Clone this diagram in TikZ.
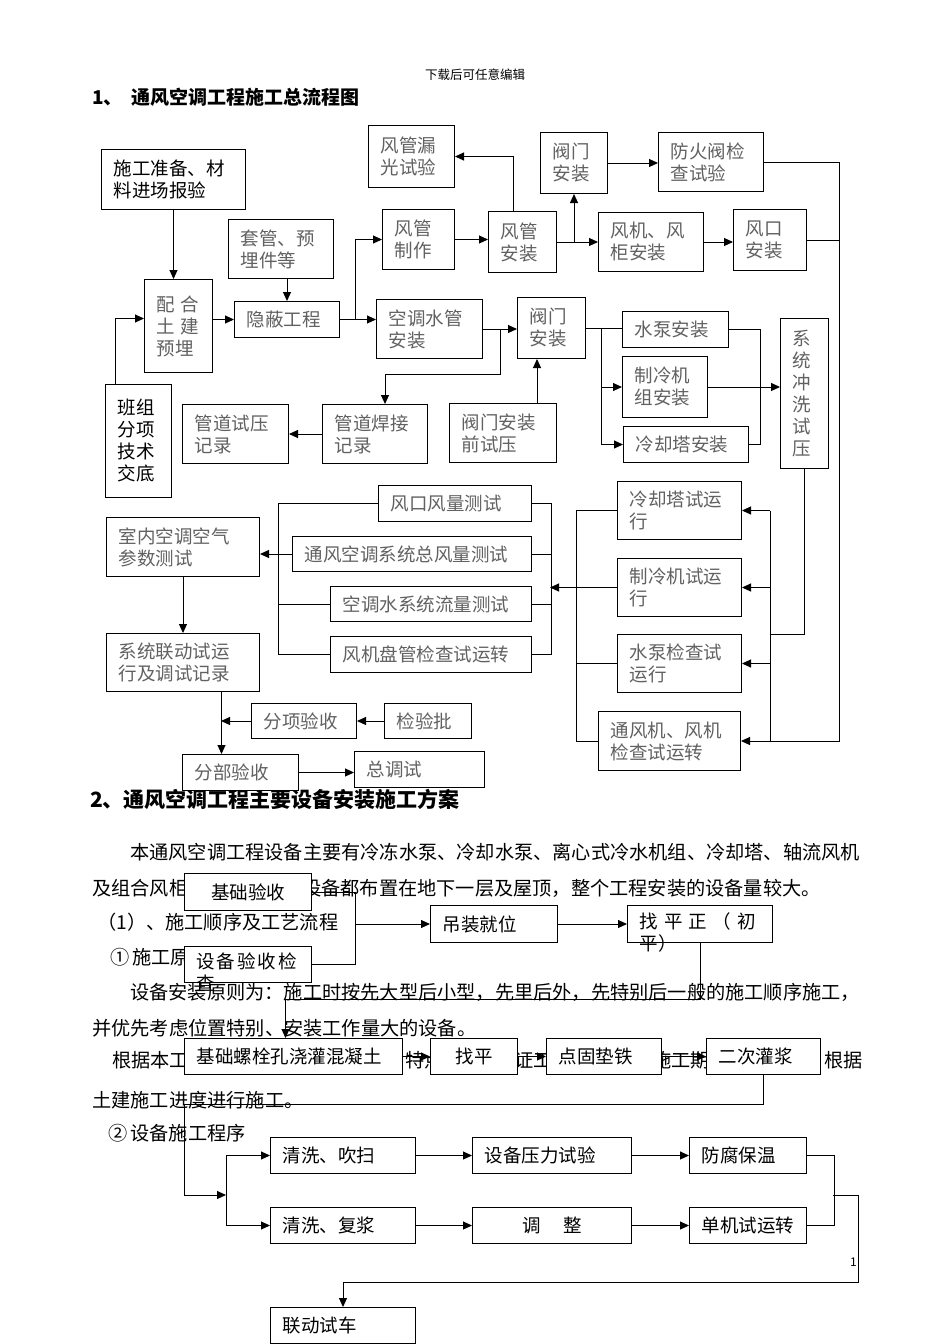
\documentclass[tikz,border=0pt]{standalone}
\usepackage{fontspec}
\setmainfont{Noto Sans CJK SC}
\usetikzlibrary{arrows.meta}
\newcommand{\boxfont}{\fontsize{18.5}{22}\selectfont}
\newcommand{\parafont}{\fontsize{19.2}{22}\selectfont}
\tikzstyle{box} = [rectangle, draw=black, line width=1pt, fill=white, anchor=north west, inner xsep=12pt, inner ysep=0pt, align=left, text=black!62, font=\boxfont]
\tikzstyle{boxdark} = [box, text=black]
\tikzstyle{para} = [anchor=west, inner sep=0pt, font=\parafont]
\tikzstyle{arrow} = [line width=1pt, -{Triangle[length=9pt, width=8pt]}]
\tikzstyle{link} = [line width=1pt]

\begin{document}
\begin{tikzpicture}[x=1pt, y=-1pt]
    \useasboundingbox (0,0) rectangle (950,1344);

    % headings and running text
    \node (header) [para, anchor=center, font=\fontsize{12.5}{14}\selectfont] at (475,75) {下载后可任意编辑};
    \node (title1) [para, font=\fontsize{19}{22}\selectfont\bfseries] at (92,97) {1、\hspace{9pt}通风空调工程施工总流程图};
    \node (title2) [para, font=\fontsize{21}{24}\selectfont\bfseries] at (90,799) {2、通风空调工程主要设备安装施工方案};
    \node (p1) [para] at (130,852) {本通风空调工程设备主要有冷冻水泵、冷却水泵、离心式冷水机组、冷却塔、轴流风机};
    \node (p2a) [para] at (92,888) {及组合风柜};
    \node (p2b) [para] at (302,888) {设备都布置在地下一层及屋顶，整个工程安装的设备量较大。};
    \node (p3) [para] at (97,922) {（1）、施工顺序及工艺流程};
    \node (p4) [para] at (110,957) {①\,施工原};
    \node (p5) [para] at (130,992) {设备安装原则为：施工时按先大型后小型，先里后外，先特别后一般的施工顺序施工，};
    \node (p6) [para] at (92,1028) {并优先考虑位置特别、安装工作量大的设备。};
    \node (p7a) [para] at (112,1060) {根据本工};
    \node (p7b) [para] at (405,1060) {特点};
    \node (p7c) [para] at (514,1060) {证工};
    \node (p7d) [para] at (652,1060) {施工期};
    \node (p7e) [para] at (824,1060) {根据};
    \node (p8) [para] at (92,1100) {土建施工进度进行施工。};
    \node (p9) [para] at (108,1133) {②\,设备施工程序};
    \node (pageno) [para, font=\fontsize{12}{14}\selectfont] at (850,1262) {1};

    % flow chart 1
    \node (prep) [boxdark, minimum width=144pt, minimum height=60pt, text width=120pt] at (101,149) {施工准备、材\\料进场报验};
    \node (sleeve) [box, minimum width=105pt, minimum height=59pt, text width=81pt] at (228,219) {套管、预\\埋件等};
    \node (embed) [box, minimum width=68pt, minimum height=93pt, text width=44pt] at (144,279) {配\kern6pt 合\\土\kern6pt 建\\预埋};
    \node (hidden) [box, minimum width=105pt, minimum height=36pt, text width=81pt] at (234,301) {隐蔽工程};
    \node (leak) [box, minimum width=86pt, minimum height=62pt, text width=62pt] at (368,125) {风管漏\\光试验};
    \node (ductmake) [box, minimum width=72pt, minimum height=60pt, text width=48pt] at (382,209) {风管\\制作};
    \node (waterpipe) [box, minimum width=106pt, minimum height=59pt, text width=82pt] at (376,299) {空调水管\\安装};
    \node (team) [boxdark, minimum width=66pt, minimum height=113pt, text width=42pt] at (105,384) {班组\\分项\\技术\\交底};
    \node (pressrec) [box, minimum width=106pt, minimum height=59pt, text width=82pt] at (182,404) {管道试压\\记录};
    \node (weldrec) [box, minimum width=105pt, minimum height=59pt, text width=81pt] at (322,404) {管道焊接\\记录};
    \node (valvetest) [box, minimum width=107pt, minimum height=59pt, text width=83pt] at (449,403) {阀门安装\\前试压};
    \node (ductinst) [box, minimum width=68pt, minimum height=61pt, text width=44pt] at (488,211) {风管\\安装};
    \node (valvetop) [box, minimum width=67pt, minimum height=61pt, text width=43pt] at (540,132) {阀门\\安装};
    \node (firedamper) [box, minimum width=105pt, minimum height=59pt, text width=81pt] at (658,132) {防火阀检\\查试验};
    \node (fancab) [box, minimum width=105pt, minimum height=59pt, text width=81pt] at (598,212) {风机、风\\柜安装};
    \node (outlet) [box, minimum width=73pt, minimum height=61pt, text width=49pt] at (733,209) {风口\\安装};
    \node (valvelow) [box, minimum width=68pt, minimum height=61pt, text width=44pt] at (517,297) {阀门\\安装};
    \node (pump) [box, minimum width=106pt, minimum height=36pt, text width=82pt] at (622,311) {水泵安装};
    \node (chiller) [box, minimum width=85pt, minimum height=61pt, text width=61pt] at (622,356) {制冷机\\组安装};
    \node (tower) [box, minimum width=125pt, minimum height=36pt, text width=101pt] at (623,426) {冷却塔安装};
    \node (flush) [box, minimum width=48pt, minimum height=150pt, text width=24pt] at (780,318) {系\\统\\冲\\洗\\试\\压};
    \node (towerrun) [box, minimum width=124pt, minimum height=58pt, text width=100pt] at (617,481) {冷却塔试运\\行};
    \node (chillrun) [box, minimum width=124pt, minimum height=58pt, text width=100pt] at (617,558) {制冷机试运\\行};
    \node (pumprun) [box, minimum width=124pt, minimum height=58pt, text width=100pt] at (617,634) {水泵检查试\\运行};
    \node (fanrun) [box, minimum width=142pt, minimum height=59pt, text width=118pt] at (598,711) {通风机、风机\\检查试运转};
    \node (outletair) [box, minimum width=153pt, minimum height=36pt, text width=129pt] at (378,485) {风口风量测试};
    \node (totalair) [box, minimum width=239pt, minimum height=35pt, text width=215pt] at (292,536) {通风空调系统总风量测试};
    \node (waterflow) [box, minimum width=201pt, minimum height=35pt, text width=177pt] at (330,586) {空调水系统流量测试};
    \node (fancoil) [box, minimum width=201pt, minimum height=36pt, text width=177pt] at (330,636) {风机盘管检查试运转};
    \node (indoor) [box, minimum width=153pt, minimum height=59pt, text width=129pt] at (106,517) {室内空调空气\\参数测试};
    \node (linkrun) [box, minimum width=153pt, minimum height=58pt, text width=129pt] at (106,633) {系统联动试运\\行及调试记录};
    \node (itemacc) [box, minimum width=105pt, minimum height=35pt, text width=81pt] at (251,703) {分项验收};
    \node (batch) [box, minimum width=87pt, minimum height=35pt, text width=63pt] at (384,703) {检验批};
    \node (partacc) [box, minimum width=116pt, minimum height=36pt, text width=92pt] at (182,754) {分部验收};
    \node (totaltest) [box, minimum width=130pt, minimum height=36pt, text width=106pt] at (354,751) {总调试};

    % flow chart 2
    \node (found) [boxdark, minimum width=127pt, minimum height=37pt, text width=103pt, align=center] at (184,873) {基础验收};
    \node (equip) [boxdark, minimum width=127pt, minimum height=36pt, text width=103pt, text height=13pt, text depth=5pt] at (184,946) {设\kern2pt 备\kern2pt 验\kern2pt 收\kern2pt 检\\查};
    \node (hoist) [boxdark, minimum width=127pt, minimum height=37pt, text width=103pt] at (430,905) {吊装就位};
    \node (level1) [boxdark, minimum width=145pt, minimum height=37pt, text width=121pt, text height=13pt, text depth=5pt] at (627,905) {找\kern6pt 平\kern6pt 正\kern6pt （\kern6pt 初\\平）};
    \node (grout) [boxdark, minimum width=218pt, minimum height=36pt, text width=194pt] at (184,1038) {基础螺栓孔浇灌混凝土};
    \node (level2) [boxdark, minimum width=87pt, minimum height=36pt, text width=63pt, align=center] at (430,1038) {找平};
    \node (shim) [boxdark, minimum width=115pt, minimum height=36pt, text width=91pt] at (546,1038) {点固垫铁};
    \node (grout2) [boxdark, minimum width=114pt, minimum height=36pt, text width=90pt] at (706,1038) {二次灌浆};
    \node (clean1) [boxdark, minimum width=145pt, minimum height=36pt, text width=121pt] at (270,1137) {清洗、吹扫};
    \node (prtest) [boxdark, minimum width=159pt, minimum height=36pt, text width=135pt] at (472,1137) {设备压力试验};
    \node (anticorr) [boxdark, minimum width=117pt, minimum height=36pt, text width=93pt] at (689,1137) {防腐保温};
    \node (clean2) [boxdark, minimum width=145pt, minimum height=36pt, text width=121pt] at (270,1207) {清洗、复浆};
    \node (adjust) [boxdark, minimum width=159pt, minimum height=36pt, text width=135pt, align=center] at (472,1207) {调\kern1.2em 整};
    \node (single) [boxdark, minimum width=117pt, minimum height=36pt, text width=93pt] at (689,1207) {单机试运转};
    \node (linktest) [boxdark, minimum width=145pt, minimum height=36pt, text width=121pt] at (270,1307) {联动试车};

    % connectors, chart 1
    \draw [arrow] (prep.south) -- (prep.south |- embed.north);
    \draw [arrow] ([xshift=-23pt]team.north) |- ([yshift=7.5pt]embed.west);
    \draw [arrow] (embed.east |- hidden.west) -- (hidden.west);
    \draw [arrow] ([xshift=6pt]sleeve.south) -- ([xshift=6pt]sleeve.south |- hidden.north);
    \draw [arrow] (hidden.east) -- (waterpipe.west |- hidden.east);
    \draw [arrow] ([xshift=15pt]hidden.east) |- (ductmake.west);
    \draw [arrow] (ductmake.east) -- (ductinst.west |- ductmake.east);
    \draw [arrow] ([xshift=-9pt]ductinst.north) |- (leak.east);
    \draw [arrow] (ductinst.east) -- (fancab.west |- ductinst.east);
    \draw [arrow] (ductinst.east -| valvetop.south) -- (valvetop.south);
    \draw [arrow] (valvetop.east) -- (firedamper.west |- valvetop.east);
    \draw [arrow] (fancab.east) -- (outlet.west |- fancab.east);
    \draw [arrow] (firedamper.east) -- ++(75,0) |- (fanrun.east);
    \draw [link] (outlet.east) -- ++(32,0);
    \draw [arrow] (waterpipe.east) -- (valvelow.west |- waterpipe.east);
    \draw [arrow] ([xshift=17pt]waterpipe.east) -- ++(0,45) -| ([xshift=10pt]weldrec.north);
    \draw [arrow] (weldrec.west) -- (pressrec.east);
    \draw [arrow] ([xshift=34pt]valvetest.north) -- ([xshift=34pt]valvetest.north |- valvelow.south);
    \draw [link] (valvelow.east) -- (pump.west |- valvelow.east);
    \draw [arrow] ([xshift=15pt]valvelow.east) |- (chiller.west);
    \draw [arrow] ([xshift=15pt]valvelow.east) |- (tower.west);
    \draw [link] (pump.east) -- ++(31,0) |- (tower.east);
    \draw [arrow] (chiller.east) -- (flush.west |- chiller.east);
    \draw [link] (flush.south) |- ([xshift=28pt]pumprun.north east);
    \draw [link] ([xshift=28pt]towerrun.east) -- ([xshift=28pt]towerrun.east |- fanrun.east);
    \draw [arrow] ([xshift=28pt]towerrun.east) -- (towerrun.east);
    \draw [arrow] ([xshift=28pt]chillrun.east) -- (chillrun.east);
    \draw [arrow] ([xshift=28pt]pumprun.east) -- (pumprun.east);
    \draw [link] (towerrun.west) -- ++(-41,0) |- (fanrun.west);
    \draw [link] (chillrun.west) -- ++(-41,0);
    \draw [link] (pumprun.west) -- ++(-41,0);
    \draw [arrow] ([xshift=-41pt]chillrun.west) -- ++(-26,0);
    \draw [link] (outletair.east) -- ++(19,0) |- (fancoil.east);
    \draw [link] (totalair.east) -- ++(19,0);
    \draw [link] (waterflow.east) -- ++(19,0);
    \draw [link] (outletair.west) -- ++(-100,0) |- (fancoil.west);
    \draw [link] (waterflow.west) -- ++(-52,0);
    \draw [arrow] (totalair.west) -- (indoor.east |- totalair.west);
    \draw [arrow] (indoor.south) -- (linkrun.north);
    \draw [arrow] ([xshift=38.5pt]linkrun.south) -- ([xshift=38.5pt]linkrun.south |- partacc.north);
    \draw [arrow] (itemacc.west) -- ++(-30,0);
    \draw [arrow] (batch.west) -- (itemacc.east);
    \draw [arrow] (partacc.east) -- (totaltest.west |- partacc.east);

    % connectors, chart 2
    \coordinate (turn) at (184,1104);
    \coordinate (fork) at (226,1195);
    \coordinate (merge) at (833,1195);
    \draw [link] (found.east) -- ++(43,0) |- (equip.east);
    \draw [arrow] ([xshift=43pt]found.east |- hoist.west) -- (hoist.west);
    \draw [arrow] (hoist.east) -- (level1.west);
    \draw [arrow] (level1.south) -- ++(0,56) -| ([xshift=-8pt]grout.north);
    \draw [arrow] (grout.east) -- (level2.west);
    \draw [arrow] (level2.east) -- (shim.west);
    \draw [arrow] (shim.east) -- (grout2.west);
    \draw [arrow] (grout2.south) |- (turn) |- (fork);
    \draw [arrow] (fork) |- (clean1.west);
    \draw [arrow] (fork) |- (clean2.west);
    \draw [arrow] (clean1.east) -- (prtest.west);
    \draw [arrow] (prtest.east) -- (anticorr.west);
    \draw [arrow] (clean2.east) -- (adjust.west);
    \draw [arrow] (adjust.east) -- (single.west);
    \draw [link] (anticorr.east) -- ++(27,0) |- (single.east);
    \draw [arrow] (merge) -- ++(25,0) -- ++(0,87) -| (linktest.north);
\end{tikzpicture}
\end{document}
